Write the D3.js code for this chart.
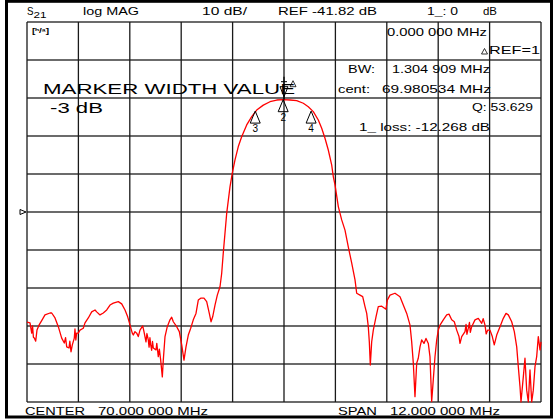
<!DOCTYPE html>
<html>
<head>
<meta charset="utf-8">
<script src="https://cdn.jsdelivr.net/npm/d3@7"></script>
<style>
  html, body { margin: 0; padding: 0; background: #fff; }
  svg { display: block; }
  text { font-family: "Liberation Sans", Arial, sans-serif; fill: #000; }
</style>
</head>
<body>
<div id="chart"></div>
<script>
// S21 sweep, [MHz, dB]
const lowerStopband = [
  [64.000, -70.8], [64.070, -71.0], [64.110, -73.7], [64.130, -71.8], [64.150, -74.8],
  [64.170, -75.0], [64.203, -75.8], [64.233, -72.9], [64.280, -71.6], [64.343, -70.4],
  [64.420, -68.9], [64.537, -68.4], [64.577, -68.4], [64.654, -69.7], [64.731, -72.0],
  [64.810, -75.0], [64.871, -76.3], [64.900, -74.9], [64.927, -77.3], [64.981, -77.6],
  [65.000, -75.8], [65.027, -78.6], [65.058, -76.8], [65.104, -75.0], [65.120, -72.6],
  [65.140, -75.5], [65.160, -73.7], [65.198, -73.7], [65.237, -72.9], [65.314, -72.4],
  [65.354, -71.0], [65.431, -69.7], [65.510, -68.1], [65.588, -67.6], [65.627, -68.1],
  [65.704, -68.9], [65.781, -68.4], [65.861, -67.6], [65.938, -66.3], [66.015, -65.8],
  [66.131, -65.4], [66.211, -66.0], [66.288, -67.6], [66.351, -69.4], [66.405, -71.6],
  [66.458, -73.7], [66.482, -74.2], [66.521, -73.3], [66.561, -73.7], [66.598, -74.6],
  [66.638, -72.9], [66.701, -71.8], [66.731, -73.3], [66.778, -76.0], [66.800, -73.8],
  [66.832, -75.5], [66.850, -77.4], [66.870, -74.9], [66.888, -76.8], [66.910, -78.2],
  [66.930, -75.9], [66.949, -77.6], [67.012, -78.1], [67.030, -76.4], [67.065, -79.9],
  [67.090, -77.9], [67.121, -80.8], [67.159, -85.2], [67.182, -80.8], [67.222, -74.6],
  [67.275, -72.0], [67.338, -70.2], [67.378, -69.5], [67.416, -70.7], [67.495, -72.0],
  [67.556, -73.3], [67.612, -76.8], [67.665, -80.8], [67.712, -77.3], [67.766, -74.2],
  [67.822, -72.4], [67.882, -70.2], [67.945, -68.5], [67.999, -65.0], [68.055, -64.5],
  [68.132, -64.5], [68.195, -65.4], [68.256, -68.5], [68.296, -70.7], [68.335, -69.4],
  [68.389, -66.3], [68.443, -63.7], [68.506, -61.5]
];
const passband = [
  [68.545, -58.0], [68.583, -52.5], [68.662, -42.2], [68.739, -35.2], [68.793, -31.6],
  [68.856, -28.1], [68.933, -24.6], [69.012, -22.0], [69.129, -18.9], [69.246, -16.7],
  [69.363, -15.0], [69.517, -13.7], [69.673, -12.8], [69.830, -12.35], [69.984, -12.27],
  [70.140, -12.35], [70.296, -12.5], [70.451, -13.2], [70.567, -14.1], [70.684, -15.4],
  [70.801, -17.6], [70.880, -19.8], [70.957, -22.4], [71.034, -25.5], [71.114, -29.5],
  [71.151, -32.5], [71.191, -34.7], [71.268, -40.4], [71.347, -43.9], [71.424, -46.6],
  [71.501, -51.0], [71.581, -55.3], [71.658, -59.7], [71.697, -63.2]
];
const upperStopband = [
  [71.774, -63.7], [71.837, -64.1], [71.891, -66.7], [71.931, -68.5], [71.968, -72.0],
  [71.992, -76.0], [72.015, -82.1], [72.047, -76.0], [72.085, -72.9], [72.148, -69.4],
  [72.201, -66.7], [72.281, -66.6], [72.381, -67.4], [72.412, -65.0], [72.475, -63.7],
  [72.591, -63.2], [72.708, -64.1], [72.785, -66.3], [72.865, -68.5], [72.942, -71.6],
  [72.981, -76.0], [73.019, -81.6], [73.058, -90.4], [73.098, -81.6], [73.135, -80.3],
  [73.175, -77.3], [73.214, -75.5], [73.268, -76.4], [73.315, -75.1], [73.369, -76.4],
  [73.408, -79.9], [73.448, -91.7], [73.485, -86.0], [73.525, -79.9], [73.565, -75.5],
  [73.602, -72.9], [73.642, -71.6], [73.719, -70.2], [73.798, -68.9], [73.852, -68.7],
  [73.915, -70.2], [73.976, -70.7], [74.032, -72.9], [74.086, -74.6], [74.109, -76.4],
  [74.149, -74.6], [74.226, -73.3], [74.250, -71.4], [74.270, -74.0], [74.303, -72.4],
  [74.330, -70.9], [74.350, -73.5], [74.382, -72.0], [74.459, -70.2], [74.536, -69.8],
  [74.616, -71.1], [74.650, -69.9], [74.693, -71.6], [74.720, -73.9], [74.756, -72.9],
  [74.809, -72.9], [74.863, -74.6], [74.909, -76.8], [74.966, -74.2], [75.043, -72.0],
  [75.120, -69.8], [75.183, -68.5], [75.237, -68.9], [75.316, -70.7], [75.377, -73.3],
  [75.433, -77.3], [75.470, -82.5], [75.510, -87.8], [75.533, -91.8], [75.587, -85.2],
  [75.626, -80.3], [75.666, -88.7], [75.704, -91.8], [75.743, -83.4], [75.783, -91.8],
  [75.820, -88.7], [75.860, -82.5], [75.899, -79.9], [75.937, -74.6], [75.977, -78.1],
  [76.000, -76.0]
];

// instrument settings
const centerMHz = 70.0;
const spanMHz = 12.0;
const refDB = -41.82;
const dbPerDiv = 10;
const divisions = 10;

// markers: 1 = delta ref, 2 = centre, 3/4 = -3 dB edges
const markerIds = ["1", "2", "3", "4"];
const markerMHz = [70.000, 69.9805, 69.3281, 70.6330];
const markerDB = [-12.268, -12.268, -15.268, -15.268];

const headerTexts = ["log MAG", "10 dB/", "REF -41.82 dB", "1_: 0", "dB"];
const footerTexts = ["CENTER", "70.000 000 MHz", "SPAN", "12.000 000 MHz"];
const readoutTexts = ["0.000 000 MHz", "REF=1", "BW:", "1.304 909 MHz", "cent:",
  "69.980534 MHz", "Q: 53.629", "1_ loss: -12.268 dB"];

const W = 553, H = 419;
const box = { left: 27, right: 541, top: 22, bottom: 402 };

const svg = d3.select("#chart").append("svg")
  .attr("width", W).attr("height", H);

const x = d3.scaleLinear()
  .domain([centerMHz - spanMHz / 2, centerMHz + spanMHz / 2])
  .range([box.left, box.right]);

const y = d3.scaleLinear()
  .domain([refDB - dbPerDiv * divisions / 2, refDB + dbPerDiv * divisions / 2])
  .range([box.bottom, box.top]);

// outer frame
svg.append("rect")
  .attr("x", 6.5).attr("y", 1.3)
  .attr("width", 545).attr("height", 415.7)
  .attr("fill", "none").attr("stroke", "#000").attr("stroke-width", 3);

// graticule
const xTicks = d3.range(divisions + 1).map(i => x.domain()[0] + i * spanMHz / divisions);
const yTicks = d3.range(divisions + 1).map(i => y.domain()[0] + i * dbPerDiv);

svg.append("g").selectAll("line")
  .data(yTicks).join("line")
    .attr("x1", box.left).attr("x2", box.right)
    .attr("y1", d => y(d)).attr("y2", d => y(d))
    .attr("stroke", "#3a3a3a").attr("stroke-width", 1.3);

svg.append("g").selectAll("line")
  .data(xTicks).join("line")
    .attr("x1", d => x(d)).attr("x2", d => x(d))
    .attr("y1", box.top).attr("y2", box.bottom)
    .attr("stroke", "#1a1a1a").attr("stroke-width", 1.3);

// reference level pointer on the left
const ry = y(refDB);
svg.append("path")
  .attr("d", `M${box.left - 7},${ry - 2.5} L${box.left - 1},${ry} L${box.left - 7},${ry + 2.5} Z`)
  .attr("fill", "none").attr("stroke", "#000").attr("stroke-width", 1);

// trace
const pts = lowerStopband.concat(passband, upperStopband);
svg.append("path")
  .datum(pts)
  .attr("fill", "none")
  .attr("stroke", "#ff0000")
  .attr("stroke-width", 1.3)
  .attr("stroke-linejoin", "round")
  .attr("d", d3.line().x(d => x(d[0])).y(d => y(d[1])));

function label(txt, px, py, size, len, anchor) {
  const t = svg.append("text")
    .attr("x", px).attr("y", py)
    .style("font-size", size + "px")
    .text(txt);
  if (len) t.attr("textLength", len).attr("lengthAdjust", "spacingAndGlyphs");
  if (anchor) t.attr("text-anchor", anchor);
  return t;
}

// header line
label("S", 27, 15, 11, 6.5);
label("21", 33.5, 18, 9, 13);
label(headerTexts[0], 83, 15, 11, 56);
label(headerTexts[1], 202, 15, 11, 45);
label(headerTexts[2], 278, 15, 11, 99);
label(headerTexts[3], 427, 15, 11, 31);
label(headerTexts[4], 483, 15, 11, 14);

// footer
label(footerTexts[0], 25, 415, 11, 60);
label(footerTexts[1], 98, 415, 11, 110);
label(footerTexts[2], 338, 415, 11, 39);
label(footerTexts[3], 390, 415, 11, 110);

// small display icon
label("[ʰ/ᵃ]", 32, 33, 7, 17).style("font-weight", "bold");

// readouts on the right
label(readoutTexts[0], 387, 36, 11.5, 100);
svg.append("path")
  .attr("d", "M481.5,54 L484.5,48.5 L487.5,54 Z")
  .attr("fill", "none").attr("stroke", "#000").attr("stroke-width", 0.8);
label(readoutTexts[1], 489, 54, 11.5, 51);
label(readoutTexts[2], 348, 73, 11.5, 27);
label(readoutTexts[3], 392, 73, 11.5, 98);
label(readoutTexts[4], 338, 93, 11.5, 32);
label(readoutTexts[5], 382, 93, 11.5, 109);
label(readoutTexts[6], 472, 111, 11.5, 61);
label(readoutTexts[7], 359, 131, 11.5, 131);

// marker annotation
label("MARKER WIDTH VALUE", 43, 93.5, 15, 252);
label("-3 dB", 50, 113, 15, 53);

// markers 2..4 : up-pointing triangles sitting on the trace
const mk = markerIds.map((id, i) => ({ id, f: markerMHz[i], db: markerDB[i] }));
const g = svg.append("g");
mk.slice(1).forEach(m => {
  const mx = x(m.f), my = y(m.db);
  g.append("path")
    .attr("d", `M${mx},${my} L${mx - 5},${my + 12} L${mx + 5},${my + 12} Z`)
    .attr("fill", "none").attr("stroke", "#000").attr("stroke-width", 1);
  g.append("text")
    .attr("x", mx).attr("y", my + 21)
    .attr("text-anchor", "middle")
    .style("font-size", "10px")
    .text(m.id);
});

// marker 1 : stick with down triangle above the peak
const m1 = mk[0];
const m1x = x(m1.f), m1y = y(m1.db);
g.append("line")
  .attr("x1", m1x).attr("x2", m1x)
  .attr("y1", m1y - 23).attr("y2", m1y)
  .attr("stroke", "#000").attr("stroke-width", 1.2);
g.append("line")
  .attr("x1", m1x - 3).attr("x2", m1x + 3)
  .attr("y1", m1y - 18).attr("y2", m1y - 18)
  .attr("stroke", "#000").attr("stroke-width", 1);
g.append("path")
  .attr("d", `M${m1x - 4},${m1y - 13} L${m1x + 4},${m1y - 13} L${m1x},${m1y - 3} Z`)
  .attr("fill", "none").attr("stroke", "#000").attr("stroke-width", 1);
g.append("path")
  .attr("d", `M${m1x + 6},${m1y - 13} L${m1x + 9},${m1y - 19} L${m1x + 12},${m1y - 13} Z`)
  .attr("fill", "none").attr("stroke", "#000").attr("stroke-width", 0.8);
</script>
</body>
</html>
